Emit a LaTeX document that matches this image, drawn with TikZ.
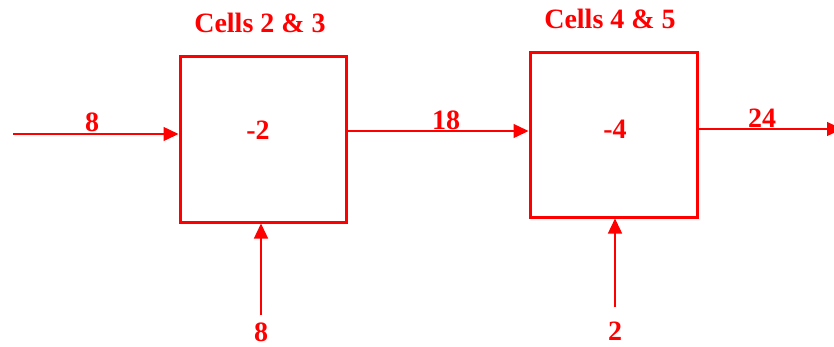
\documentclass[tikz,border=0pt]{standalone}
\usepackage{fontspec}
\setmainfont{Liberation Serif}
\usetikzlibrary{arrows.meta,positioning}

\tikzset{
  cellbox/.style={draw=red,line width=3pt,minimum width=166pt,minimum height=166pt,inner sep=0pt},
  flow/.style={draw=red,line width=1.4pt,->},
  lbl/.style={text=red,font=\fontsize{28}{31}\selectfont\bfseries,inner sep=0pt}
}

\begin{document}
\begin{tikzpicture}[x=1pt,y=-1pt,>={Triangle[length=15pt,width=14pt]}]
\useasboundingbox (0,0) rectangle (834,346);
\node[cellbox] (box23) at (263,139) {};
\node[cellbox,minimum width=167pt,minimum height=165pt] (box45) at (613.5,134.5) {};
\node[lbl] (t23) at (260,23) {Cells 2 \& 3};
\node[lbl] (t45) at (610,19) {Cells 4 \& 5};
\node[lbl] (v23) at (258,130) {-2};
\node[lbl] (v45) at (615,129) {-4};
% flows in and out
\coordinate (in1) at (13,134);
\coordinate (out1) at (842,129);
\coordinate (in23) at (261,315);
\coordinate (in45) at (615,307);
\draw[flow] (in1) -- (box23.west |- in1);
\draw[flow] (box23.east |- 0,131) -- (box45.west |- 0,131);
\draw[flow] (box45.east |- out1) -- (out1);
\draw[flow] (in23) -- (in23 |- box23.south);
\draw[flow] (in45) -- (in45 |- box45.south);
\node[lbl] (f8a) at (92,122) {8};
\node[lbl] (f18) at (446,120) {18};
\node[lbl] (f24) at (762,118) {24};
\node[lbl] (f8b) at (261,332) {8};
\node[lbl] (f2) at (615,331) {2};
\end{tikzpicture}
\end{document}
